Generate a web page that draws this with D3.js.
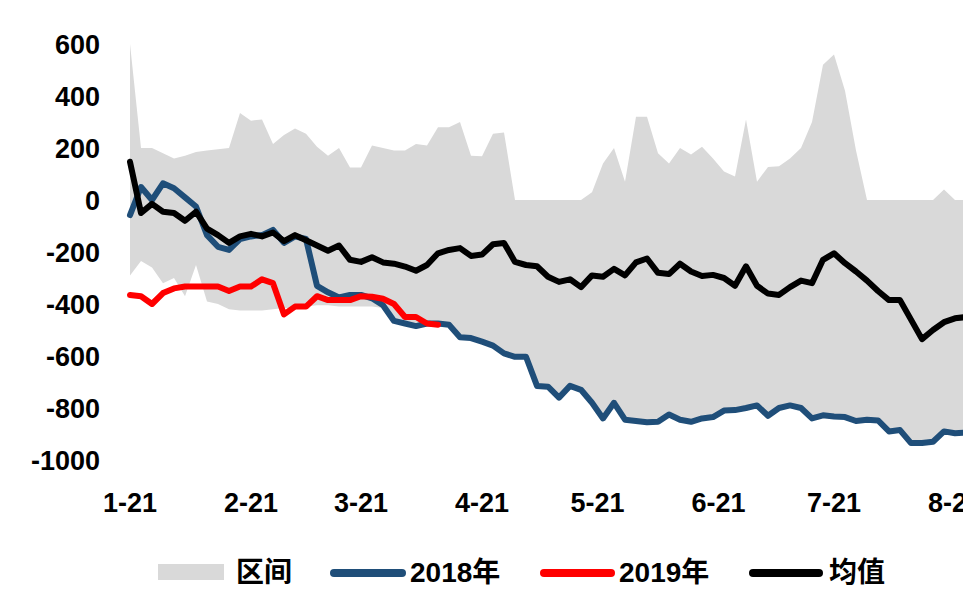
<!DOCTYPE html>
<html>
<head>
<meta charset="utf-8">
<script src="https://cdn.jsdelivr.net/npm/d3@7"></script>
<style>
  body { margin: 0; background: #fff; overflow: hidden; }
  text { font-family: "Liberation Sans", Arial, "Noto Sans CJK SC", sans-serif; font-weight: bold; }
</style>
</head>
<body>
<div id="chart"></div>
<script>
// one value every 2 trading days, starting 1-21
const rangeHigh = [600, 200, 200, 180, 160, 170, 185, 190, 195, 200,
  335, 305, 310, 215, 250, 275, 255, 205, 170, 200,
  125, 125, 210, 200, 190, 190, 215, 210, 280, 280,
  300, 170, 168, 255, 260, 0, 0, 0, 0, 0,
  0, 0, 30, 140, 200, 70, 320, 320, 180, 140,
  200, 175, 205, 160, 110, 90, 310, 70, 127, 130,
  160, 200, 300, 520, 560, 420, 190, 0, 0, 0,
  0, 0, 0, 0, 40, 0, 0];

const rangeLow = [-290, -235, -260, -320, -300, -370, -250, -390, -400, -420,
  -425, -425, -425, -420, -415, -415, -410, -405, -405, -410,
  -410, -410, -410, -415, -465, -475, -485, -475, -475, -480,
  -528, -531, -545, -560, -590, -603, -603, -715, -718, -760,
  -715, -730, -780, -840, -780, -845, -850, -855, -853, -825,
  -845, -853, -840, -835, -810, -808, -800, -790, -830, -800,
  -790, -800, -840, -828, -833, -835, -850, -845, -848, -890,
  -885, -935, -935, -930, -890, -897, -895];

const y2018 = [-58, 50, 0, 64, 45, 10, -25, -135, -180, -192,
  -150, -140, -135, -115, -165, -140, -150, -330, -355, -375,
  -365, -365, -378, -405, -465, -475, -485, -475, -475, -480,
  -528, -531, -545, -560, -590, -603, -603, -715, -718, -760,
  -715, -730, -780, -840, -780, -845, -850, -855, -853, -825,
  -845, -853, -840, -835, -810, -808, -800, -790, -830, -800,
  -790, -800, -840, -828, -833, -835, -850, -845, -848, -890,
  -885, -935, -935, -930, -890, -897, -895];

const y2019 = [-365, -370, -400, -358, -340, -333, -333, -333, -333, -350,
  -333, -333, -305, -320, -440, -410, -410, -370, -385, -385,
  -385, -370, -372, -380, -400, -450, -450, -475, -480];

const avg = [147, -50, -15, -45, -50, -80, -45, -110, -135, -165,
  -140, -130, -140, -125, -158, -135, -155, -175, -195, -175,
  -230, -238, -220, -240, -245, -256, -272, -250, -205, -192,
  -185, -215, -210, -170, -165, -238, -250, -255, -295, -315,
  -305, -335, -290, -295, -265, -290, -240, -225, -280, -285,
  -245, -275, -292, -288, -300, -330, -255, -330, -360, -365,
  -335, -310, -320, -230, -205, -243, -275, -310, -350, -385,
  -385, -460, -535, -500, -470, -455, -450];

const xLabels = ["1-21", "2-21", "3-21", "4-21", "5-21", "6-21", "7-21", "8-21"];
const xLabelIdx = [0, 22, 42, 64, 85, 107, 128, 150];
const yTicks = [600, 400, 200, 0, -200, -400, -600, -800, -1000];

const W = 963, H = 593;
const step = 2;

const svg = d3.select("#chart").append("svg")
  .attr("width", W)
  .attr("height", H);

const x = d3.scaleLinear().domain([0, 152]).range([130, 966]);
const y = d3.scaleLinear().domain([-1000, 600]).range([460, 44]);

const band = rangeHigh.map((v, i) => ({ i: i * step, hi: v, lo: rangeLow[i] }));

svg.append("path")
  .datum(band)
  .attr("fill", "#d9d9d9")
  .attr("d", d3.area()
    .x(d => x(d.i))
    .y0(d => y(d.lo))
    .y1(d => y(d.hi)));

const line = d3.line()
  .x((d, i) => x(i * step))
  .y(d => y(d));

const series = [
  { vals: y2018, color: "#1f4e79" },
  { vals: y2019, color: "#ff0000" },
  { vals: avg, color: "#000000" }
];

svg.selectAll("path.series")
  .data(series)
  .enter()
  .append("path")
    .attr("class", "series")
    .attr("fill", "none")
    .attr("stroke", d => d.color)
    .attr("stroke-width", 6)
    .attr("stroke-linejoin", "round")
    .attr("stroke-linecap", "round")
    .attr("d", d => line(d.vals));

// y axis labels
svg.append("g")
  .selectAll("text")
  .data(yTicks)
  .enter()
  .append("text")
    .attr("x", 100)
    .attr("y", d => y(d))
    .attr("dy", "0.36em")
    .attr("text-anchor", "end")
    .attr("font-size", 27)
    .text(d => d);

// x axis labels
svg.append("g")
  .selectAll("text")
  .data(xLabels)
  .enter()
  .append("text")
    .attr("x", (d, i) => x(xLabelIdx[i]))
    .attr("y", 512)
    .attr("text-anchor", "middle")
    .attr("font-size", 27)
    .text(d => d);

// legend
const legend = svg.append("g");
legend.append("rect")
  .attr("x", 158).attr("y", 564)
  .attr("width", 66).attr("height", 16)
  .attr("fill", "#d9d9d9");
legend.append("text")
  .attr("x", 236).attr("y", 582)
  .attr("font-size", 28)
  .text("区间");

const legendItems = [
  { label: "2018年", color: "#1f4e79", x1: 334, x2: 402, tx: 410 },
  { label: "2019年", color: "#ff0000", x1: 544, x2: 611, tx: 619 },
  { label: "均值", color: "#000000", x1: 753, x2: 819, tx: 829 }
];

legend.selectAll("line")
  .data(legendItems)
  .enter()
  .append("line")
    .attr("x1", d => d.x1).attr("x2", d => d.x2)
    .attr("y1", 573).attr("y2", 573)
    .attr("stroke", d => d.color)
    .attr("stroke-width", 8)
    .attr("stroke-linecap", "round");

legend.selectAll("text.lg")
  .data(legendItems)
  .enter()
  .append("text")
    .attr("class", "lg")
    .attr("x", d => d.tx).attr("y", 582)
    .attr("font-size", 28)
    .text(d => d.label);
</script>
</body>
</html>
